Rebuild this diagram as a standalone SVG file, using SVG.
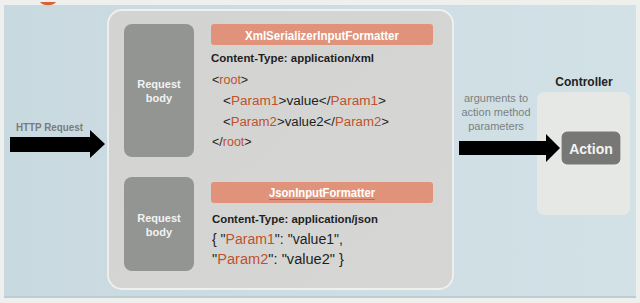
<svg xmlns="http://www.w3.org/2000/svg" width="640" height="303" viewBox="0 0 640 303">
<defs>
<linearGradient id="bg" x1="0" y1="0" x2="1" y2="0">
<stop offset="0" stop-color="#c9d9e0"/>
<stop offset="1" stop-color="#d2e1e6"/>
</linearGradient>
<linearGradient id="gbox" x1="0" y1="0" x2="1" y2="1">
<stop offset="0" stop-color="#d3d4d2"/>
<stop offset="1" stop-color="#d6d7d4"/>
</linearGradient>
</defs>
<style>
text{font-family:"Liberation Sans",Arial,sans-serif}
.rb{fill:#939593}
.rbt{fill:#f2f2f2;font-size:11px;font-weight:bold;text-anchor:middle}
.bar{fill:#e0937a}
.bart{fill:#ffffff;font-size:12px;font-weight:bold;text-anchor:middle}
.ct{fill:#1e1e1e;font-size:11px;font-weight:bold}
.code{fill:#1e1e1e;font-size:12.5px}
.json{fill:#1e1e1e;font-size:14px}
.o{fill:#c1502b}
.gray{fill:#7d7f80;font-size:11px;text-anchor:middle}
.arrow{fill:#000000}
</style>
<rect width="640" height="303" fill="#eef0ee"/>
<rect x="4" y="5" width="632" height="292" fill="url(#bg)"/>
<rect x="4" y="296" width="632" height="2" fill="#bfcdd2"/>
<path d="M40,2 A9,6 0 0 0 56,2 Z" fill="#d9603a"/>

<g id="main-box">
<rect x="108" y="10" width="345" height="279" rx="14" fill="url(#gbox)" stroke="#f0f0ee" stroke-width="1.8"/>
</g>

<g id="request-body-1">
<rect class="rb" x="124" y="24" width="70" height="133" rx="8"/>
<text class="rbt" x="159" y="88">Request</text>
<text class="rbt" x="159" y="102">body</text>
</g>

<g id="xml-formatter">
<rect class="bar" x="211" y="24" width="222" height="21" rx="3"/>
<text class="bart" x="322" y="39.5" textLength="154" lengthAdjust="spacingAndGlyphs">XmlSerializerInputFormatter</text>
<text class="ct" x="211" y="62" textLength="163" lengthAdjust="spacingAndGlyphs">Content-Type:  application/xml</text>
<text class="code" x="212" y="84">&lt;<tspan class="o">root</tspan>&gt;</text>
<text class="code" x="223" y="105" textLength="163" lengthAdjust="spacingAndGlyphs">&lt;<tspan class="o">Param1</tspan>&gt;value&lt;/<tspan class="o">Param1</tspan>&gt;</text>
<text class="code" x="223" y="126" textLength="166" lengthAdjust="spacingAndGlyphs">&lt;<tspan class="o">Param2</tspan>&gt;value2&lt;/<tspan class="o">Param2</tspan>&gt;</text>
<text class="code" x="212" y="146">&lt;/<tspan class="o">root</tspan>&gt;</text>
</g>

<g id="request-body-2">
<rect class="rb" x="124" y="177" width="70" height="94" rx="8"/>
<text class="rbt" x="159" y="222">Request</text>
<text class="rbt" x="159" y="236">body</text>
</g>

<g id="json-formatter">
<rect class="bar" x="211" y="182" width="222" height="21" rx="3"/>
<text class="bart" x="322" y="197" textLength="106" lengthAdjust="spacingAndGlyphs">JsonInputFormatter</text>
<line x1="269" y1="199.5" x2="375" y2="199.5" stroke="#e8454a" stroke-width="0.8"/>
<text class="ct" x="212" y="223" textLength="166" lengthAdjust="spacingAndGlyphs">Content-Type:  application/json</text>
<text class="json" x="212" y="244" textLength="131" lengthAdjust="spacingAndGlyphs">{ "<tspan class="o">Param1</tspan>": "value1",</text>
<text class="json" x="212" y="264" textLength="132" lengthAdjust="spacingAndGlyphs">"<tspan class="o">Param2</tspan>": "value2" }</text>
</g>

<g id="controller">
<rect x="537" y="92" width="93" height="123" rx="7" fill="#e6e8e6"/>
<text x="584" y="86" fill="#222" font-size="12" font-weight="bold" text-anchor="middle">Controller</text>
</g>

<g id="action">
<rect x="561" y="131" width="60" height="34" rx="6" fill="#777876" stroke="#ebecea" stroke-width="1.2"/>
<text x="591" y="154" fill="#f4f4f4" font-size="14" font-weight="bold" text-anchor="middle">Action</text>
</g>

<g id="labels">
<text x="16" y="131" fill="#7a7c7e" font-size="11" font-weight="bold" textLength="67" lengthAdjust="spacingAndGlyphs">HTTP Request</text>
<text class="gray" x="496" y="102">arguments to</text>
<text class="gray" x="496" y="116">action method</text>
<text class="gray" x="496" y="130">parameters</text>
</g>

<g id="connectors">
<polygon class="arrow" points="10,137 90,137 90,130 105,144 90,158 90,152 10,152"/>
<polygon class="arrow" points="459,141 546,141 546,134 560,148 546,162 546,155 459,155"/>
</g>
</svg>
